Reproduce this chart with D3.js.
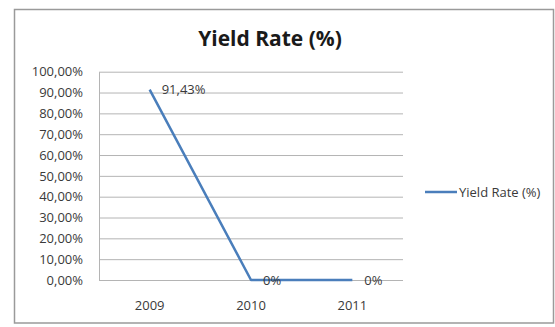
<!DOCTYPE html>
<html>
<head>
<meta charset="utf-8">
<script src="https://cdn.jsdelivr.net/npm/d3@7/dist/d3.min.js"></script>
<style>
  html, body { margin: 0; padding: 0; background: #fff; }
  svg { display: block; }
  text { font-family: "Open Sans", "Liberation Sans", sans-serif; }
</style>
</head>
<body>
<svg id="chart" width="555" height="327"></svg>
<script>
// Yield rate by year
const categories = ["2009", "2010", "2011"];
const yieldRate = [91.43, 0, 0];
const valueLabels = ["91,43%", "0%", "0%"];
const yTickValues = [0, 10, 20, 30, 40, 50, 60, 70, 80, 90, 100];
const seriesName = "Yield Rate (%)";
const chartTitle = "Yield Rate (%)";

const svg = d3.select("#chart");
const W = 555, H = 327;

// comma-decimal number formatting for the axis
const locale = d3.formatLocale({ decimal: ",", thousands: ".", grouping: [3], currency: ["", "€"] });
const pct = v => locale.format(".2f")(v) + "%";

const plot = { left: 99, right: 403, top: 71.7, bottom: 280 };

const x = d3.scaleBand().domain(categories).range([plot.left, plot.right]);
const y = d3.scaleLinear().domain([0, 100]).range([plot.bottom, plot.top]);
const cx = c => x(c) + x.bandwidth() / 2;

// chart frame
svg.append("rect")
  .attr("x", 14.5).attr("y", 9.5)
  .attr("width", 539).attr("height", 313.5)
  .attr("fill", "#fff")
  .attr("stroke", "#9a9a9a")
  .attr("stroke-width", 1.5);

// title
svg.append("text")
  .attr("x", 270).attr("y", 46)
  .attr("text-anchor", "middle")
  .attr("font-size", 21)
  .attr("font-weight", "bold")
  .attr("fill", "#1a1a1a")
  .text(chartTitle);

// value axis with gridlines
const yAxis = d3.axisLeft(y)
  .tickValues(yTickValues)
  .tickFormat(pct)
  .tickSize(-(plot.right - plot.left))
  .tickSizeOuter(0)
  .tickPadding(16);

const gy = svg.append("g")
  .attr("transform", `translate(${plot.left},0)`)
  .call(yAxis);
gy.select(".domain").attr("stroke", "#b4b4b4").attr("stroke-width", 1);
gy.selectAll(".tick line").attr("stroke", "#b4b4b4").attr("stroke-width", 1);
gy.selectAll(".tick text")
  .attr("font-size", 13)
  .attr("fill", "#3a3a3a");

// category axis
const xAxis = d3.axisBottom(x).tickSize(0).tickPadding(21);
const gx = svg.append("g")
  .attr("transform", `translate(0,${plot.bottom})`)
  .call(xAxis);
gx.select(".domain").remove();
gx.selectAll(".tick text")
  .attr("font-size", 13)
  .attr("fill", "#3a3a3a");

// series line
const line = d3.line()
  .x((d, i) => cx(categories[i]))
  .y(d => y(d));

svg.append("path")
  .datum(yieldRate)
  .attr("d", line)
  .attr("fill", "none")
  .attr("stroke", "#4a7ebb")
  .attr("stroke-width", 2.5)
  .attr("stroke-linejoin", "round");

// data labels, placed to the right of each point
svg.selectAll("text.vlabel")
  .data(yieldRate)
  .join("text")
  .attr("class", "vlabel")
  .attr("x", (d, i) => cx(categories[i]) + 12)
  .attr("y", d => y(d))
  .attr("dy", "0.35em")
  .attr("font-size", 13)
  .attr("fill", "#3a3a3a")
  .text((d, i) => valueLabels[i]);

// legend
const legend = svg.append("g").attr("transform", "translate(425,192)");
legend.append("line")
  .attr("x1", 0).attr("x2", 32)
  .attr("y1", 0).attr("y2", 0)
  .attr("stroke", "#4a7ebb")
  .attr("stroke-width", 2.5);
legend.append("text")
  .attr("x", 34).attr("y", 0)
  .attr("dy", "0.35em")
  .attr("font-size", 13)
  .attr("fill", "#3a3a3a")
  .text(seriesName);
</script>
</body>
</html>
